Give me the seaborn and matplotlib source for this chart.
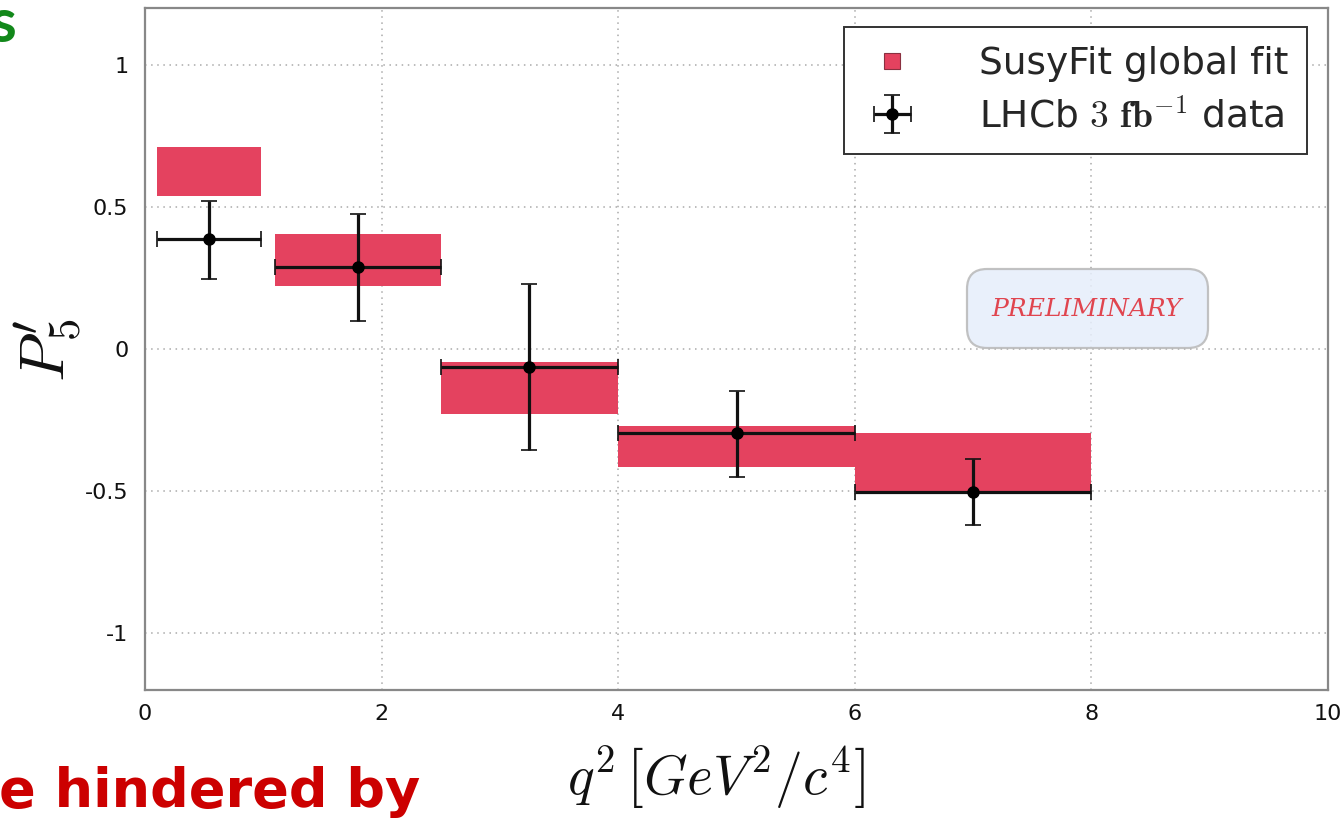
import numpy as np
import matplotlib
matplotlib.use("Agg")
import matplotlib.pyplot as plt
from matplotlib.lines import Line2D
from matplotlib.patches import FancyBboxPatch
import seaborn as sns

# q^2 bins (GeV^2/c^4)
bin_lo = [0.1, 1.1, 2.5, 4.0, 6.0]
bin_hi = [0.98, 2.5, 4.0, 6.0, 8.0]

# SusyFit global fit: P5' band per bin
fit_lo = [0.54, 0.22, -0.227, -0.416, -0.50]
fit_hi = [0.71, 0.405, -0.045, -0.27, -0.297]

# LHCb 3 fb^-1 measurements
data_x = [0.54, 1.80, 3.25, 5.0, 7.0]
data_y = [0.388, 0.29, -0.063, -0.297, -0.503]
data_err_up = [0.133, 0.185, 0.29, 0.15, 0.115]
data_err_dn = [0.140, 0.19, 0.294, 0.154, 0.116]

x_ticks = [0, 2, 4, 6, 8, 10]
y_ticks = [-1, -0.5, 0, 0.5, 1]
y_tick_labels = ["-1", "-0.5", "0", "0.5", "1"]

fit_color = "#e4425f"

sns.set_theme(style="whitegrid")
plt.rcParams["font.family"] = ["DejaVu Sans"]
plt.rcParams["mathtext.fontset"] = "cm"

W, H = 1340, 818
fig = plt.figure(figsize=(W / 100, H / 100), dpi=100)
fig.patch.set_facecolor("white")
ax = fig.add_axes([145 / W, 1 - 690 / H, (1328 - 145) / W, (690 - 8) / H])
ax.set_facecolor("white")

# fit bands
lo = np.array(bin_lo)
hi = np.array(bin_hi)
flo = np.array(fit_lo)
fhi = np.array(fit_hi)
ax.bar(lo, fhi - flo, width=hi - lo, bottom=flo, align="edge",
       color=fit_color, edgecolor="none", zorder=2)

# data points with bin-width horizontal bars
dx = np.array(data_x)
xerr = np.vstack([dx - lo, hi - dx])
yerr = np.vstack([data_err_dn, data_err_up])
eb = ax.errorbar(dx, data_y, xerr=xerr, yerr=yerr, fmt="o", color="black",
                 ecolor="#111111", elinewidth=2.3, capsize=6, capthick=1.2,
                 markersize=8, zorder=3)

ax.set_xlim(0, 10)
ax.set_ylim(-1.2, 1.2)
ax.set_xticks(x_ticks)
ax.set_xticklabels([str(t) for t in x_ticks])
ax.set_yticks(y_ticks)
ax.set_yticklabels(y_tick_labels)
ax.tick_params(axis="both", direction="in", length=5, width=1, color="#888888",
               labelsize=16, labelcolor="#111111", pad=10)
ax.tick_params(axis="y", pad=12)
ax.grid(True, color="#aaaaaa", linestyle=(0, (1, 3)), linewidth=1.1)
for s in ax.spines.values():
    s.set_color("#888888")
    s.set_linewidth(1.6)

# axis titles
fig.text(48 / W, 1 - 350 / H, r"$P_5'$", rotation=90, ha="center",
         va="center", fontsize=46, color="#111111")
fig.text(716 / W, 1 - 778 / H, r"$q^2\,\left[GeV^2/c^4\right]$", ha="center",
         va="center", fontsize=40, color="#111111")

# legend
fit_handle = Line2D([], [], marker="s", linestyle="none", markersize=11,
                    markerfacecolor=fit_color, markeredgecolor="#8a3040",
                    markeredgewidth=0.8)
leg = ax.legend([fit_handle, eb],
                ["SusyFit global fit", r"LHCb $3\ \mathbf{fb}^{-1}$ data"],
                loc="upper right", bbox_to_anchor=(0.982, 0.972),
                fontsize=27, frameon=True, fancybox=False, framealpha=1,
                edgecolor="#333333", borderpad=0.5, labelspacing=0.45,
                handlelength=1.6, handletextpad=1.5, borderaxespad=0)
leg.get_frame().set_linewidth(1.4)

# preliminary stamp
stamp = FancyBboxPatch((967 / 100, (H - 348) / 100), 2.41, 0.79,
                       boxstyle="round,pad=0,rounding_size=0.2",
                       transform=fig.dpi_scale_trans, facecolor="#e6eefb",
                       edgecolor="#b8b8b8", linewidth=1.6, alpha=0.85,
                       zorder=1.5, clip_on=False)
ax.add_patch(stamp)
ax.text((967 + 120) / 100, (H - 310) / 100, "PRELIMINARY",
        transform=fig.dpi_scale_trans, ha="center", va="center",
        fontsize=18, style="italic", family="DejaVu Serif", color="#e0454f",
        zorder=4)

# slide text around the plot
fig.text(16 / W, 1 - 42 / H, "s", ha="right", va="baseline", fontsize=44,
         fontweight="bold", family="Lato", color="#12881a")
fig.text(420 / W, 1 - 807 / H, "e hindered by", ha="right", va="baseline",
         fontsize=39, fontweight="bold", family="DejaVu Sans", color="#cc0000")

fig.savefig("out.png", dpi=100)
